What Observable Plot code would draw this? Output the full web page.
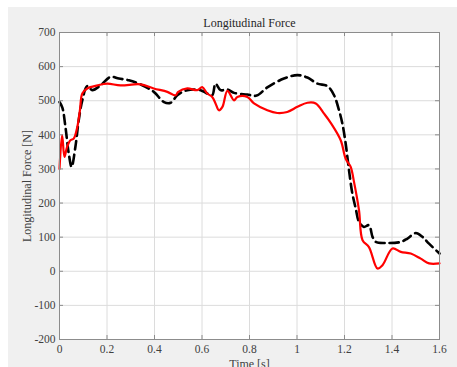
<!DOCTYPE html>
<html>
<head>
<meta charset="utf-8">
<script src="https://cdn.jsdelivr.net/npm/d3@7"></script>
<script src="https://cdn.jsdelivr.net/npm/@observablehq/plot@0.6"></script>
<style>
  html, body { margin: 0; padding: 0; background: #ffffff; }
  #wrap { position: relative; width: 457px; height: 367px; overflow: hidden; }
  #bg { position: absolute; left: 8px; top: 7px; right: 0; bottom: 0; background: #f0f0f0; }
  #chart { position: absolute; left: 0; top: 0; }
  #chart svg { background: transparent; font-family: "Liberation Serif", "Times New Roman", serif; }
</style>
</head>
<body>
<div id="wrap"><div id="bg"></div><div id="chart"></div></div>
<script>
const titleText = "Longitudinal Force";
const xLabel = "Time [s]";
const yLabel = "Longitudinal Force [N]";
const xTicks = [0, 0.2, 0.4, 0.6, 0.8, 1, 1.2, 1.4, 1.6];
const yTicks = [-200, -100, 0, 100, 200, 300, 400, 500, 600, 700];

// Solid red series
const tRed = [0, 0.011, 0.021, 0.032, 0.046, 0.06, 0.075, 0.086, 0.096, 0.117, 0.16, 0.201, 0.257, 0.341, 0.397, 0.454, 0.489, 0.5, 0.538, 0.58, 0.601, 0.622, 0.643, 0.657, 0.671, 0.686, 0.707, 0.735, 0.749, 0.791, 0.819, 0.875, 0.917, 0.959, 1.002, 1.044, 1.079, 1.114, 1.142, 1.184, 1.205, 1.226, 1.24, 1.261, 1.276, 1.303, 1.339, 1.36, 1.402, 1.437, 1.479, 1.521, 1.556, 1.6];
const vRed = [300, 399, 335, 365, 384, 389, 423, 472, 521, 536, 545, 550, 545, 548, 536, 526, 516, 526, 536, 531, 540, 521, 511, 492, 472, 482, 529, 501, 511, 511, 492, 472, 464, 467, 482, 494, 492, 462, 435, 384, 330, 306, 262, 179, 91, 71, 8, 18, 67, 57, 52, 37, 23, 23];

// Dashed black series
const tBlack = [0, 0.012, 0.025, 0.039, 0.051, 0.067, 0.081, 0.096, 0.117, 0.138, 0.173, 0.215, 0.25, 0.292, 0.341, 0.397, 0.44, 0.468, 0.496, 0.538, 0.594, 0.622, 0.643, 0.657, 0.678, 0.707, 0.735, 0.791, 0.83, 0.875, 0.945, 1.002, 1.044, 1.086, 1.128, 1.156, 1.177, 1.191, 1.205, 1.219, 1.233, 1.247, 1.261, 1.282, 1.303, 1.318, 1.332, 1.381, 1.437, 1.465, 1.5, 1.528, 1.556, 1.6];
const vBlack = [496, 480, 423, 345, 306, 365, 443, 501, 543, 531, 545, 570, 565, 560, 548, 526, 496, 494, 516, 531, 531, 521, 516, 550, 531, 533, 523, 518, 515, 539, 565, 575, 568, 550, 543, 516, 472, 433, 374, 296, 228, 185, 145, 130, 135, 101, 86, 83, 86, 96, 112, 101, 81, 52];

const red = tRed.map((t, i) => ({t, v: vRed[i]}));
const black = tBlack.map((t, i) => ({t, v: vBlack[i]}));

const fmt = d => String(+(+d).toFixed(1));
const font = "Liberation Serif, Times New Roman, serif";

const chart = Plot.plot({
  width: 457,
  height: 367,
  marginLeft: 59,
  marginRight: 18,
  marginTop: 32,
  marginBottom: 28,
  style: {fontFamily: font, fontSize: "12px", background: "transparent", color: "#404040"},
  x: {domain: [0, 1.6]},
  y: {domain: [-200, 700]},
  marks: [
    Plot.frame({fill: "white", stroke: "none"}),
    Plot.gridX(xTicks, {stroke: "#dcdcdc", strokeOpacity: 1}),
    Plot.gridY(yTicks, {stroke: "#dcdcdc", strokeOpacity: 1}),
    Plot.line(black, {x: "t", y: "v", stroke: "black", strokeWidth: 2.6, strokeDasharray: "9,5", curve: "catmull-rom"}),
    Plot.line(red, {x: "t", y: "v", stroke: "#ff0000", strokeWidth: 2.2, curve: "catmull-rom"}),
    Plot.frame({stroke: "#8c8c8c", strokeWidth: 1}),
    Plot.tickY(yTicks, {y: d => d, stroke: "#8c8c8c", insetRight: 376}),
    Plot.tickY(yTicks, {y: d => d, stroke: "#8c8c8c", insetLeft: 376}),
    Plot.tickX(xTicks, {x: d => d, stroke: "#8c8c8c", insetTop: 303}),
    Plot.tickX(xTicks, {x: d => d, stroke: "#8c8c8c", insetBottom: 303}),
    Plot.axisX(xTicks, {tickSize: 0, tickPadding: 5, tickFormat: fmt, label: null, fontSize: 11.5, fontFamily: font, fill: "#404040"}),
    Plot.axisY(yTicks, {tickSize: 0, tickPadding: 4, tickFormat: d => String(d), label: null, fontSize: 11.5, fontFamily: font, fill: "#404040"}),
    Plot.text([titleText], {frameAnchor: "top", lineAnchor: "middle", dy: -9, fontSize: 12, fontFamily: font, fill: "#262626"}),
    Plot.text([xLabel], {frameAnchor: "bottom", lineAnchor: "middle", dy: 25, fontSize: 12, fontFamily: font, fill: "#404040"}),
    Plot.text([yLabel], {frameAnchor: "left", textAnchor: "middle", lineAnchor: "middle", dx: -32, rotate: -90, fontSize: 12, fontFamily: font, fill: "#404040"})
  ]
});
document.getElementById("chart").appendChild(chart);
</script>
</body>
</html>
